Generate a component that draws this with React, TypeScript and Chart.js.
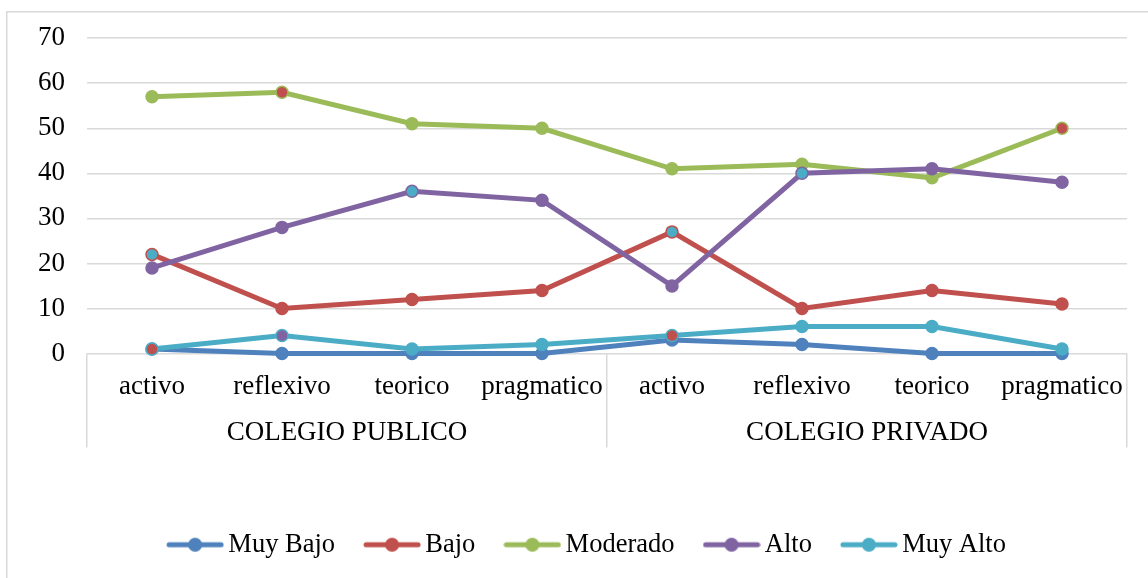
import React, { useEffect, useRef } from "react";
import { Chart, registerables } from "chart.js";

Chart.register(...registerables);

const categories = ["activo", "reflexivo", "teorico", "pragmatico", "activo", "reflexivo", "teorico", "pragmatico"];
const groups = ["COLEGIO PUBLICO", "COLEGIO PRIVADO"];
const groupSize = 4;
const seriesNames = ["Muy Bajo", "Bajo", "Moderado", "Alto", "Muy Alto"];
const muyBajo = [1, 0, 0, 0, 3, 2, 0, 0];
const bajo = [22, 10, 12, 14, 27, 10, 14, 11];
const moderado = [57, 58, 51, 50, 41, 42, 39, 50];
const alto = [19, 28, 36, 34, 15, 40, 41, 38];
const muyAlto = [1, 4, 1, 2, 4, 6, 6, 1];
const yTicks = [0, 10, 20, 30, 40, 50, 60, 70];

const colors = ["#4F81BD", "#C0504D", "#9BBB59", "#8064A2", "#4BACC6"];
// marker fill overrides seen in the reference: [series, point, colour-of-series]
const fillOverrides: [number, number, number][] = [
  [1, 0, 4], [4, 0, 1], [2, 1, 1], [4, 1, 3], [3, 2, 4],
  [1, 4, 4], [4, 4, 1], [3, 5, 4], [2, 7, 1],
];

const FONT = "'Liberation Serif', 'Times New Roman', serif";
const GRID = "#d9d9d9";

function legendIcon(color: string) {
  const c = document.createElement("canvas");
  c.width = 58;
  c.height = 16;
  const ctx = c.getContext("2d")!;
  ctx.strokeStyle = color;
  ctx.lineWidth = 5;
  ctx.lineCap = "round";
  ctx.beginPath();
  ctx.moveTo(3, 8);
  ctx.lineTo(55, 8);
  ctx.stroke();
  ctx.fillStyle = color;
  ctx.beginPath();
  ctx.arc(29, 8, 7, 0, Math.PI * 2);
  ctx.fill();
  return c;
}

const groupPlugin = {
  id: "groupPlugin",
  afterLayout(chart: any) {
    const lg = chart.legend;
    if (lg) {
      lg.left += 27;
      lg.right += 27;
    }
  },
  beforeDraw(chart: any) {
    const { ctx } = chart;
    ctx.save();
    ctx.fillStyle = "#fff";
    ctx.fillRect(0, 0, chart.width, chart.height);
    ctx.strokeStyle = GRID;
    ctx.lineWidth = 1.5;
    ctx.strokeRect(6.75, 11.75, chart.width + 50, chart.height + 50);
    ctx.restore();
  },
  afterDraw(chart: any) {
    const { ctx } = chart;
    const xs = chart.scales.x;
    const top = xs.top;
    const sepBottom = top + 94;
    const bounds: number[] = [];
    for (let g = 0; g <= groups.length; g++) {
      bounds.push(xs.getPixelForValue(g * groupSize - 0.5));
    }
    ctx.save();
    ctx.strokeStyle = GRID;
    ctx.lineWidth = 1.5;
    bounds.forEach((bx) => {
      ctx.beginPath();
      ctx.moveTo(Math.round(bx) - 0.25, top);
      ctx.lineTo(Math.round(bx) - 0.25, sepBottom);
      ctx.stroke();
    });
    ctx.fillStyle = "#000";
    ctx.font = `27px ${FONT}`;
    ctx.textAlign = "center";
    ctx.textBaseline = "middle";
    groups.forEach((g, i) => {
      const cx = (xs.getPixelForValue(i * groupSize) + xs.getPixelForValue(i * groupSize + groupSize - 1)) / 2;
      ctx.fillText(g, cx, top + 79);
    });
    ctx.restore();
  },
};

export default function App() {
  const ref = useRef<HTMLCanvasElement | null>(null);
  useEffect(() => {
    if (!ref.current) return;
    const all = [muyBajo, bajo, moderado, alto, muyAlto];
    const datasets = all.map((data, i) => {
      const fills = data.map(() => colors[i]);
      fillOverrides.forEach(([s, p, c]) => {
        if (s === i) fills[p] = colors[c];
      });
      return {
        label: seriesNames[i],
        data,
        borderColor: colors[i],
        backgroundColor: colors[i],
        borderWidth: 5,
        pointRadius: 6,
        pointBorderWidth: 1.5,
        pointBackgroundColor: fills,
        pointBorderColor: colors[i],
        pointHoverRadius: 6,
        pointStyle: "circle",
        tension: 0,
        clip: false as any,
        order: all.length - i,
      };
    });
    const chart = new Chart(ref.current, {
      type: "line",
      data: { labels: categories, datasets: datasets as any },
      options: {
        animation: false,
        responsive: true,
        maintainAspectRatio: false,
        layout: { padding: { left: 0, right: 21, top: 37, bottom: 10 } },
        scales: {
          x: {
            type: "category",
            offset: true,
            grid: { display: false, drawTicks: false },
            border: { display: false },
            ticks: {
              autoSkip: false,
              maxRotation: 0,
              padding: 17,
              color: "#000",
              font: { family: FONT, size: 27 },
            },
            afterFit: (s: any) => {
              s.height = 141;
            },
          },
          y: {
            min: 0,
            max: 70,
            afterBuildTicks: (s: any) => {
              s.ticks = yTicks.map((v) => ({ value: v }));
            },
            grid: { color: GRID, lineWidth: 1.5, drawTicks: false },
            border: { display: false },
            ticks: {
              padding: 22,
              color: "#000",
              font: { family: FONT, size: 27 },
            },
            afterFit: (s: any) => {
              s.width = 87;
            },
          },
        },
        plugins: {
          tooltip: { enabled: false },
          legend: {
            position: "bottom",
            labels: {
              usePointStyle: true,
              pointStyleWidth: 40,
              padding: 37,
              color: "#000",
              font: { family: FONT, size: 26.5 },
              generateLabels: (c: any) =>
                c.data.datasets.map((d: any, i: number) => ({
                  text: d.label,
                  fillStyle: colors[i],
                  strokeStyle: colors[i],
                  lineWidth: 0,
                  pointStyle: legendIcon(colors[i]),
                  datasetIndex: i,
                  hidden: false,
                  fontColor: "#000",
                })),
            },
          },
        },
      },
      plugins: [groupPlugin],
    });
    return () => chart.destroy();
  }, []);
  return (
    <div style={{ position: "fixed", left: 0, top: 0, width: 1148, height: 578 }}>
      <canvas ref={ref} />
    </div>
  );
}
